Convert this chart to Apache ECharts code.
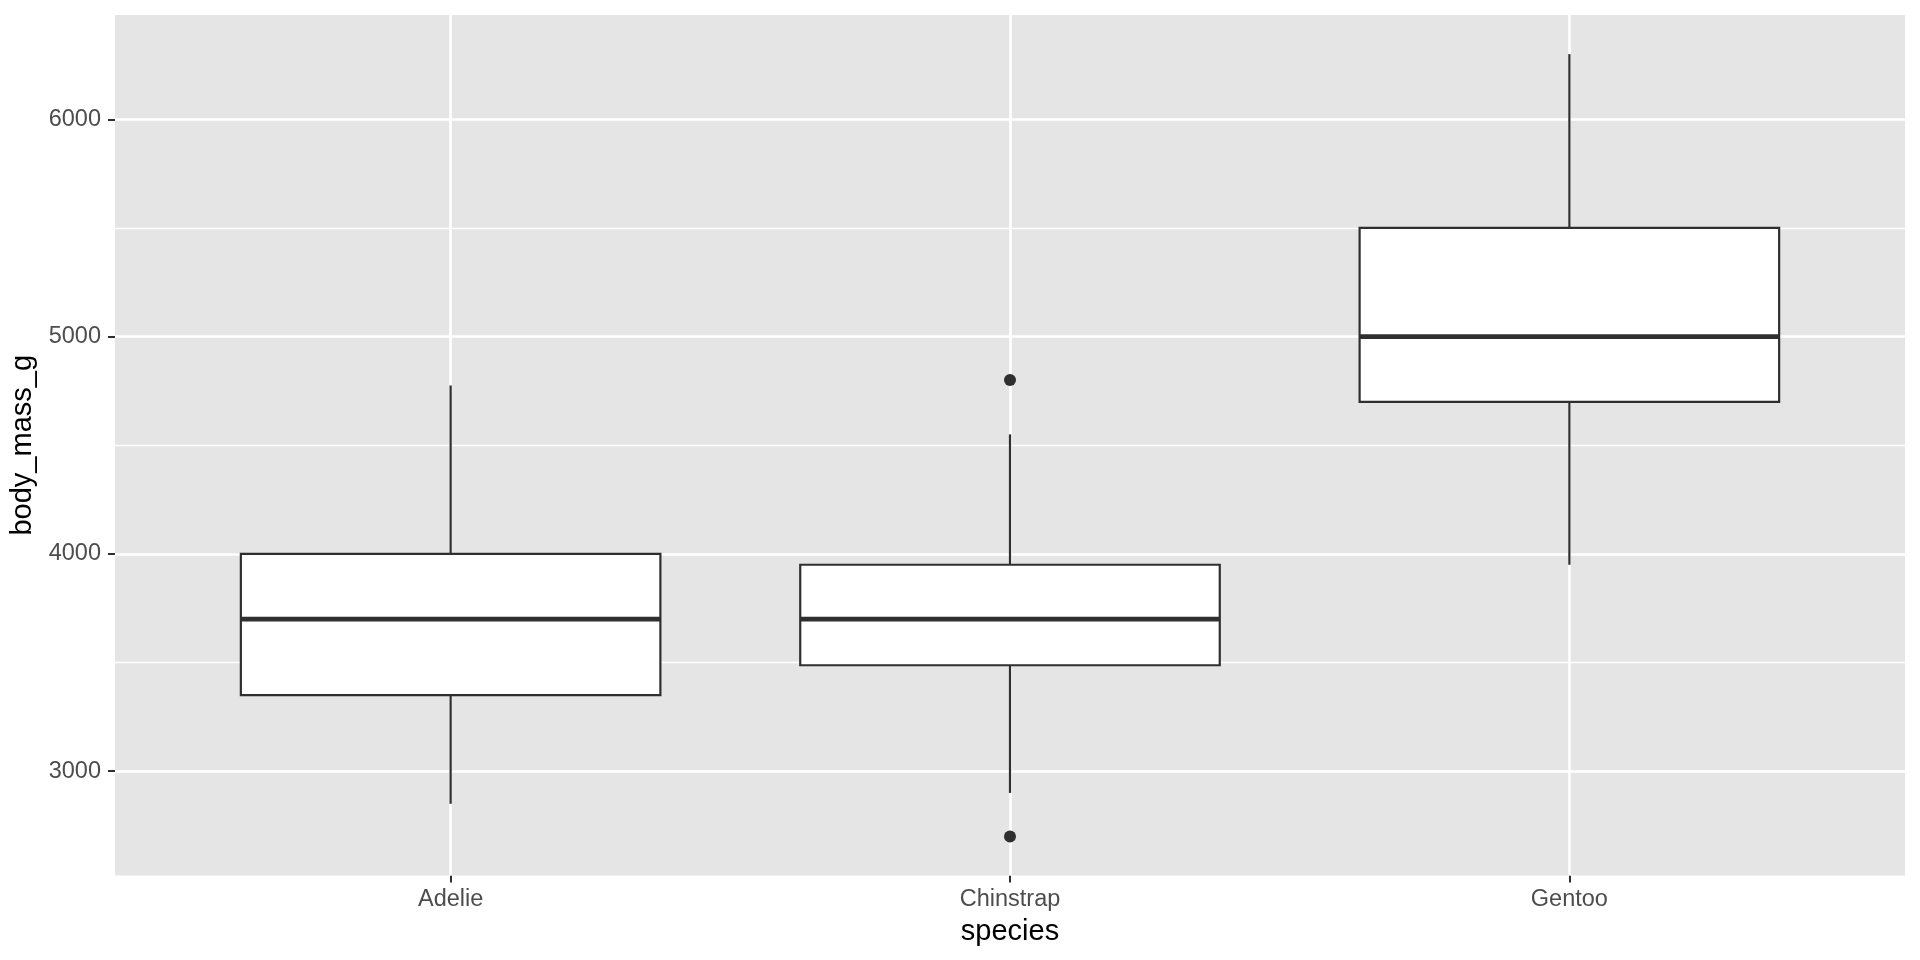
<!DOCTYPE html>
<html>
<head>
<meta charset="utf-8">
<script src="https://cdn.jsdelivr.net/npm/echarts@6/dist/echarts.min.js"></script>
<style>
html,body{margin:0;padding:0;background:#fff;}
#chart{width:1920px;height:960px;}
</style>
</head>
<body>
<div id="chart"></div>
<script>
// ---- data ----
const species = ['Adelie', 'Chinstrap', 'Gentoo'];
const lowerWhisker = [2850, 2900, 3950];
const q1 = [3350, 3487.5, 4700];
const median = [3700, 3700, 5000];
const q3 = [4000, 3950, 5500];
const upperWhisker = [4775, 4550, 6300];
const outlierSpecies = ['Chinstrap', 'Chinstrap'];
const outlierValues = [4800, 2700];
const yTicks = [3000, 4000, 5000, 6000];
const yMinorTicks = [3500, 4500, 5500];

const FONT = "'Liberation Sans', Arial, Helvetica, sans-serif";
const DARK = '#2F2F2F';
const BOX_WIDTH = 0.75;

const boxData = species.map((s, i) => [i + 1, lowerWhisker[i], q1[i], median[i], q3[i], upperWhisker[i]]);
const outlierData = outlierValues.map((v, i) => [species.indexOf(outlierSpecies[i]) + 1, v]);

const gridLines = [];
yMinorTicks.forEach(v => gridLines.push({ yAxis: v, lineStyle: { color: '#ffffff', width: 1.3, type: 'solid' } }));
yTicks.forEach(v => gridLines.push({ yAxis: v, lineStyle: { color: '#ffffff', width: 2.6, type: 'solid' } }));
species.forEach((s, i) => gridLines.push({ xAxis: i + 1, lineStyle: { color: '#ffffff', width: 2.6, type: 'solid' } }));

const chart = echarts.init(document.getElementById('chart'), null, { renderer: 'canvas' });

function renderBox(params, api) {
  const x = api.value(0);
  const lo = api.value(1), a = api.value(2), m = api.value(3), b = api.value(4), hi = api.value(5);
  const half = BOX_WIDTH / 2;
  const pLo = api.coord([x, lo]);
  const pHi = api.coord([x, hi]);
  const pA = api.coord([x - half, a]);
  const pB = api.coord([x + half, b]);
  const pML = api.coord([x - half, m]);
  const pMR = api.coord([x + half, m]);
  const pQa = api.coord([x, a]);
  const pQb = api.coord([x, b]);
  const lineStyle = { stroke: DARK, lineWidth: 2.2, fill: null };
  return {
    type: 'group',
    children: [
      { type: 'line', shape: { x1: pQb[0], y1: pQb[1], x2: pHi[0], y2: pHi[1] }, style: lineStyle },
      { type: 'line', shape: { x1: pQa[0], y1: pQa[1], x2: pLo[0], y2: pLo[1] }, style: lineStyle },
      { type: 'rect', shape: { x: pA[0], y: pB[1], width: pB[0] - pA[0], height: pA[1] - pB[1] },
        style: { fill: '#ffffff', stroke: DARK, lineWidth: 2.2 } },
      { type: 'line', shape: { x1: pML[0], y1: pML[1], x2: pMR[0], y2: pMR[1] },
        style: { stroke: DARK, lineWidth: 4.6 } }
    ]
  };
}

chart.setOption({
  animation: false,
  backgroundColor: '#ffffff',
  grid: {
    left: 115, right: 15, top: 15, bottom: 84.5,
    show: true, backgroundColor: '#E5E5E5', borderWidth: 0,
    containLabel: false, outerBoundsMode: 'none'
  },
  xAxis: {
    type: 'value', min: 0.4, max: 3.6,
    name: 'species', nameLocation: 'middle', nameGap: 41.5,
    nameTextStyle: { fontFamily: FONT, fontSize: 29, color: '#000000' },
    axisLine: { show: false },
    axisTick: { show: true, customValues: [1, 2, 3], length: 7, lineStyle: { color: DARK, width: 2 } },
    axisLabel: {
      show: true, customValues: [1, 2, 3], margin: 12.5,
      fontFamily: FONT, fontSize: 23.5, color: '#4D4D4D',
      formatter: v => species[Math.round(v) - 1] || ''
    },
    splitLine: { show: false }
  },
  yAxis: {
    type: 'value', min: 2520, max: 6480,
    name: 'body_mass_g', nameLocation: 'middle', nameGap: 68, nameRotate: 90,
    nameTextStyle: { fontFamily: FONT, fontSize: 29, color: '#000000' },
    axisLine: { show: false },
    axisTick: { show: true, customValues: yTicks, length: 7, lineStyle: { color: DARK, width: 2 } },
    axisLabel: {
      show: true, customValues: yTicks, margin: 14,
      fontFamily: FONT, fontSize: 23.5, color: '#4D4D4D',
      formatter: v => String(v)
    },
    splitLine: { show: false }
  },
  series: [
    {
      type: 'scatter', data: [], z: 1, silent: true,
      markLine: { silent: true, z: 1, symbol: 'none', label: { show: false }, animation: false, data: gridLines }
    },
    {
      type: 'custom', z: 5, renderItem: renderBox, data: boxData,
      encode: { x: 0, y: [1, 2, 3, 4, 5] }, silent: true
    },
    {
      type: 'scatter', z: 6, data: outlierData, symbol: 'circle', symbolSize: 12,
      itemStyle: { color: DARK, opacity: 1 }, silent: true
    }
  ]
});
</script>
</body>
</html>
